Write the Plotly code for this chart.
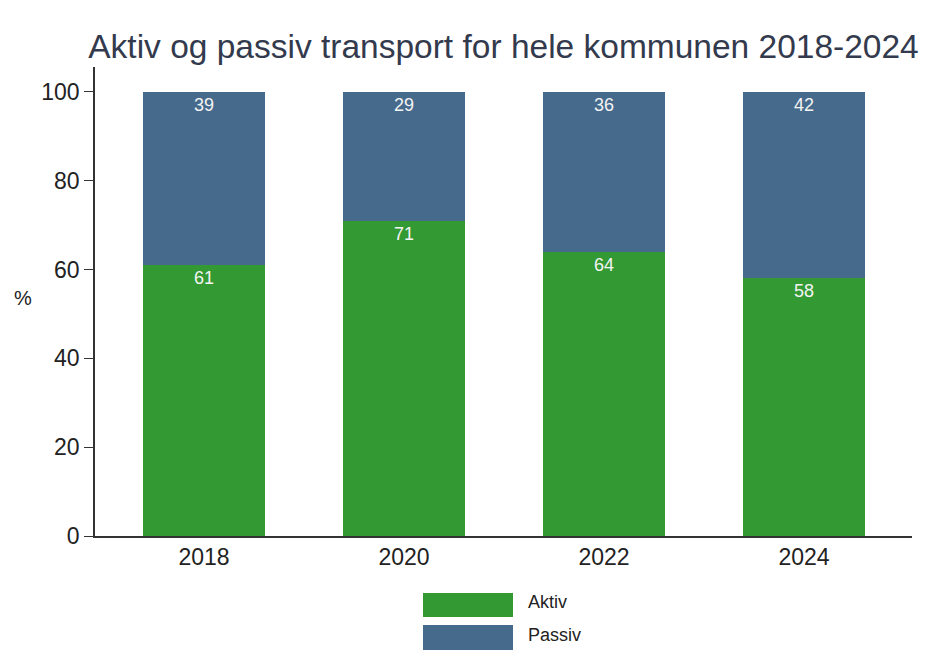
import plotly.graph_objects as go

# data
years = ["2018", "2020", "2022", "2024"]
aktiv = [61, 71, 64, 58]
passiv = [39, 29, 36, 42]
series_names = ["Aktiv", "Passiv"]
colors = ["#339933", "#466a8c"]
y_ticks = [0, 20, 40, 60, 80, 100]

# page body adds an 8px margin, so the figure is drawn 8px smaller/shifted
OFF = 8
W, H = 928 - OFF, 662 - OFF
ML, MR, MT, MB = 95 - OFF, 16, 67 - OFF, 126

font = "Arial, Liberation Sans, sans-serif"

fig = go.Figure()
for name, vals, col in zip(series_names, [aktiv, passiv], colors):
    fig.add_trace(go.Bar(
        x=years, y=vals, name=name,
        marker_color=col, marker_line_width=0,
        width=0.61,
        text=vals, textposition="inside", insidetextanchor="end",
        textfont=dict(family=font, size=18, color="#f4f4f4"),
        showlegend=False,
    ))

# helpers to place legend pieces in paper coords from (reference) pixel positions
plot_w = W - ML - MR
plot_h = H - MT - MB


def px_x(x):
    return (x - OFF - ML) / plot_w


def px_y(y):
    return (H - MB - (y - OFF)) / plot_h


shapes = []
annotations = []
legend_rows = [(593, 617), (625, 650)]
for (y0, y1), name, col in zip(legend_rows, series_names, colors):
    shapes.append(dict(type="rect", xref="paper", yref="paper",
                       x0=px_x(423), x1=px_x(513), y0=px_y(y1), y1=px_y(y0),
                       fillcolor=col, line_width=0))
    annotations.append(dict(text=name, xref="paper", yref="paper",
                            x=px_x(526), y=px_y((y0 + y1) / 2 - 3),
                            xanchor="left", yanchor="middle", showarrow=False,
                            font=dict(family=font, size=18, color="#222222")))

# y-axis title "%"
annotations.append(dict(text="%", xref="paper", yref="paper",
                        x=px_x(23), y=px_y(298), xanchor="center", yanchor="middle",
                        showarrow=False, font=dict(family=font, size=20, color="#222222")))

fig.update_layout(
    width=W, height=H,
    margin=dict(l=ML, r=MR, t=MT, b=MB),
    barmode="stack", bargap=0.39,
    paper_bgcolor="white", plot_bgcolor="white",
    title=dict(text="Aktiv og passiv transport for hele kommunen 2018-2024",
               x=0.5, xref="paper", y=1 - (46 - OFF) / H, yref="container",
               xanchor="center", yanchor="middle",
               font=dict(family=font, size=33.5, color="#333a4d")),
    shapes=shapes, annotations=annotations,
    font=dict(family=font, color="#222222"),
)
fig.update_xaxes(type="category", range=[-0.545, 3.54],
                 showline=True, linecolor="#333333", linewidth=1.5,
                 ticks="", showgrid=False, tickfont=dict(size=23, color="#222222"))
fig.update_yaxes(range=[0, 105.6], tickvals=y_ticks,
                 showline=True, linecolor="#333333", linewidth=1.5,
                 ticks="outside", ticklen=9, tickcolor="#333333", tickwidth=1,
                 showgrid=False, zeroline=False,
                 tickfont=dict(size=23, color="#222222"))

fig.write_html("out.html")
